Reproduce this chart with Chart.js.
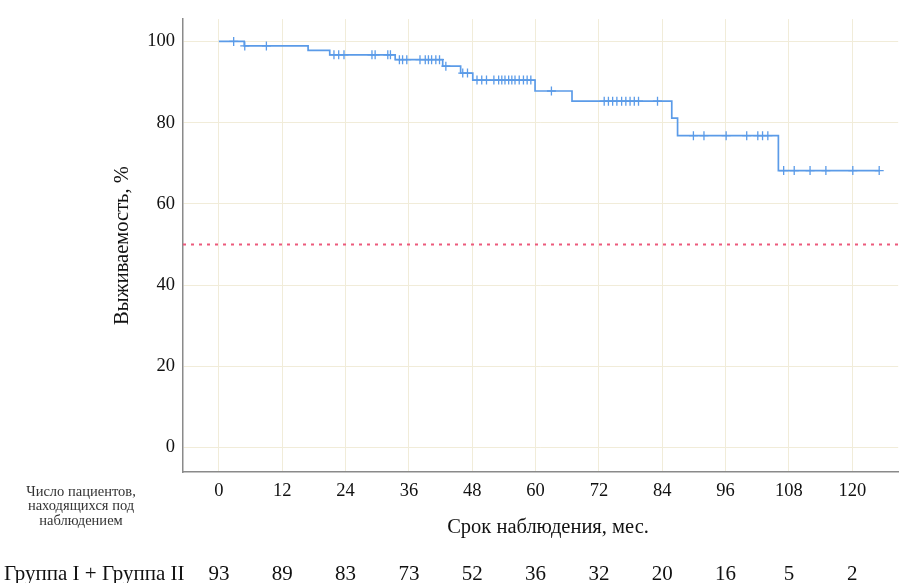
<!DOCTYPE html>
<html lang="ru">
<head>
<meta charset="utf-8">
<title>Выживаемость</title>
<script src="https://cdn.jsdelivr.net/npm/chart.js@4.4.1/dist/chart.umd.min.js"></script>
<style>
  html, body { margin: 0; padding: 0; background: #ffffff; }
  #wrap { width: 904px; height: 583px; }
</style>
</head>
<body>
<div id="wrap"><canvas id="km" width="904" height="583"></canvas></div>
<script>
// Kaplan–Meier curve: event times (months) and survival after each step (%)
const stepTimes  = [0, 4.8, 16.9, 21.0, 33.4, 42.4, 45.8, 48.1, 59.9, 66.9, 85.8, 86.9, 106.0, 125.1];
const stepValues = [100, 98.9, 97.8, 96.7, 95.5, 93.9, 92.2, 90.5, 87.8, 85.3, 81.1, 76.8, 68.2, 68.2];

// Censored observations (months) and the curve level where each is marked (%)
const censorTimes  = [2.8, 4.9, 9.0,
  21.8, 22.7, 23.7, 29.0, 29.6, 32.0, 32.5,
  34.2, 34.8, 35.6, 38.1, 39.1, 39.7, 40.3, 41.1, 41.8,
  43.0, 46.2, 47.1,
  48.9, 49.8, 50.7, 52.1, 53.0, 53.6, 54.2, 54.9, 55.5, 56.1, 56.9, 57.7, 58.4, 59.1,
  63.0,
  73.0, 73.8, 74.6, 75.4, 76.3, 77.1, 77.9, 78.7, 79.5, 83.1,
  89.9, 91.9, 96.1, 100.0, 102.1, 103.0, 104.0,
  107.0, 109.0, 112.0, 115.0, 120.1, 125.1];
const censorValues = [100, 98.9, 98.9,
  96.7, 96.7, 96.7, 96.7, 96.7, 96.7, 96.7,
  95.5, 95.5, 95.5, 95.5, 95.5, 95.5, 95.5, 95.5, 95.5,
  93.9, 92.2, 92.2,
  90.5, 90.5, 90.5, 90.5, 90.5, 90.5, 90.5, 90.5, 90.5, 90.5, 90.5, 90.5, 90.5, 90.5,
  87.8,
  85.3, 85.3, 85.3, 85.3, 85.3, 85.3, 85.3, 85.3, 85.3, 85.3,
  76.8, 76.8, 76.8, 76.8, 76.8, 76.8, 76.8,
  68.2, 68.2, 68.2, 68.2, 68.2, 68.2];

// Median reference level (%)
const medianLevel = 50;

// Axis ticks and patients at risk under each month tick
const monthTicks    = [0, 12, 24, 36, 48, 60, 72, 84, 96, 108, 120];
const percentTicks  = [0, 20, 40, 60, 80, 100];
const atRisk        = [93, 89, 83, 73, 52, 36, 32, 20, 16, 5, 2];
const groupLabel    = 'Группа I + Группа II';
const riskCaption   = ['Число пациентов,', 'находящихся под', 'наблюдением'];
const xTitle        = 'Срок наблюдения, мес.';

const X_MIN = -6.8, X_MAX = 128.7;

const SERIF = '"Liberation Serif", "Times New Roman", serif';
const TEXT = '#111111';
const GRID = '#f1ecd9';
const AXIS = '#8a8a8a';
const CURVE = '#5b9be8';

const curvePoints  = stepTimes.map((t, i) => ({ x: t, y: stepValues[i] }));
const censorPoints = censorTimes.map((t, i) => ({ x: t, y: censorValues[i] }));

// X-axis title, risk table and its caption under the x axis
const riskTable = {
  id: 'riskTable',
  afterDraw(chart) {
    const ctx = chart.ctx;
    const xs = chart.scales.x;
    ctx.save();
    ctx.textBaseline = 'middle';

    ctx.fillStyle = TEXT;
    ctx.textAlign = 'center';
    ctx.font = '20.5px ' + SERIF;
    ctx.fillText(xTitle, 548, 528);

    ctx.fillStyle = '#333';
    ctx.font = '14.5px ' + SERIF;
    riskCaption.forEach((line, i) => ctx.fillText(line, 81, 492 + i * 14.5));

    ctx.fillStyle = TEXT;
    ctx.font = '21px ' + SERIF;
    ctx.textAlign = 'left';
    ctx.fillText(groupLabel, 4, 574);
    ctx.textAlign = 'center';
    monthTicks.forEach((m, i) => {
      ctx.fillText(String(atRisk[i]), xs.getPixelForValue(m), 574);
    });
    ctx.restore();
  }
};

new Chart(document.getElementById('km'), {
  type: 'scatter',
  data: {
    datasets: [
      {
        label: 'median',
        data: [{ x: X_MIN, y: medianLevel }, { x: X_MAX, y: medianLevel }],
        showLine: true,
        borderColor: '#ec5a7c',
        borderWidth: 2,
        borderDash: [3, 5],
        pointRadius: 0,
        order: 3
      },
      {
        label: 'survival',
        data: curvePoints,
        showLine: true,
        stepped: true,
        borderColor: CURVE,
        borderWidth: 1.7,
        pointRadius: 0,
        order: 2
      },
      {
        label: 'censored',
        data: censorPoints,
        showLine: false,
        pointStyle: 'cross',
        pointRadius: 4.5,
        borderColor: CURVE,
        borderWidth: 1.3,
        backgroundColor: CURVE,
        order: 1
      }
    ]
  },
  options: {
    responsive: false,
    animation: false,
    layout: { padding: { top: 15, right: 1, bottom: 0, left: 0 } },
    plugins: {
      legend: { display: false },
      tooltip: { enabled: false }
    },
    scales: {
      x: {
        type: 'linear',
        min: X_MIN,
        max: X_MAX,
        afterBuildTicks: (s) => { s.ticks = monthTicks.map(v => ({ value: v })); },
        afterFit: (s) => { s.height = 111; },
        grid: { color: GRID, lineWidth: 1, drawTicks: false },
        border: { display: true, color: AXIS, width: 1.5 },
        ticks: {
          color: TEXT,
          padding: 8,
          maxRotation: 0,
          autoSkip: false,
          font: { family: SERIF, size: 18.5 }
        },
        title: { display: false }
      },
      y: {
        type: 'linear',
        min: -6,
        max: 105.5,
        afterBuildTicks: (s) => { s.ticks = percentTicks.map(v => ({ value: v })); },
        afterFit: (s) => { s.width = 183; },
        grid: { color: GRID, lineWidth: 1, drawTicks: false },
        border: { display: true, color: AXIS, width: 1.5 },
        ticks: {
          color: TEXT,
          padding: 8,
          font: { family: SERIF, size: 18.5 }
        },
        title: {
          display: true,
          text: 'Выживаемость, %',
          color: TEXT,
          font: { family: SERIF, size: 20.5 },
          padding: { top: 110, bottom: 0 }
        }
      }
    }
  },
  plugins: [riskTable]
});
</script>
</body>
</html>
